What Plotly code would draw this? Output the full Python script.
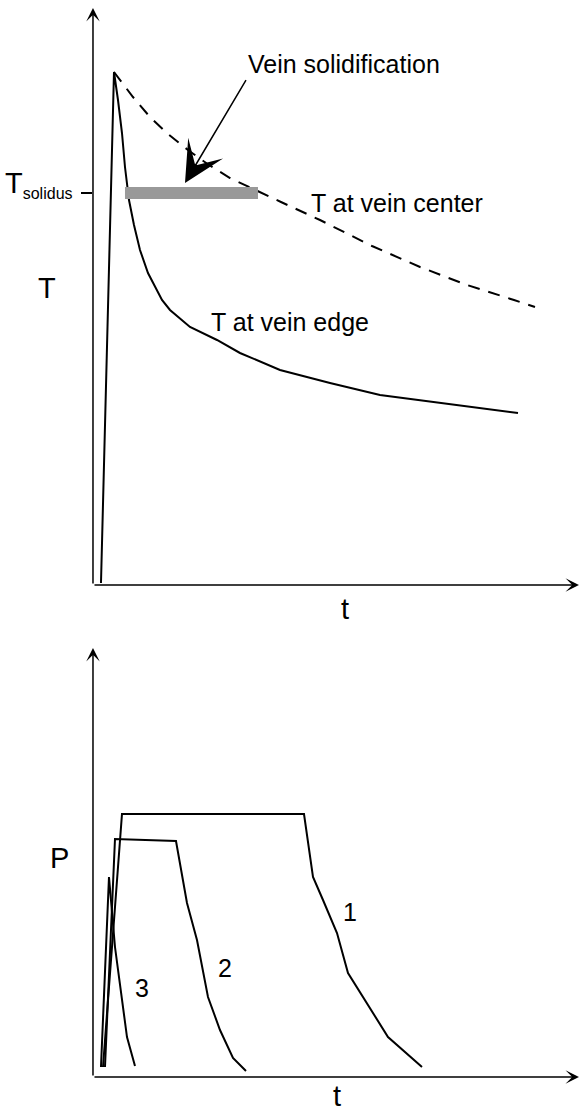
import plotly.graph_objects as go

# unidades arbitrarias: t (tiempo), T (temperatura), P (presion)
FONT = "Liberation Sans, Arial, sans-serif"

# panel superior: temperatura en el borde de la vena
t_edge = [0.8, 2.1, 2.5, 2.9, 3.2, 3.6, 4.1, 4.7, 5.5, 6.9, 7.7, 9.7, 12.4,
          14.7, 18.7, 23.7, 28.7, 32.7, 38.0, 42.5]
T_edge = [0.2, 51.3, 48.5, 45.2, 41.8, 38.5, 36.0, 33.5, 31.2, 28.5, 27.5,
          25.8, 24.5, 23.2, 21.5, 20.2, 19.0, 18.5, 17.8, 17.2]

# temperatura en el centro de la vena (discontinua)
t_center = [2.1, 4.0, 5.7, 7.5, 9.5, 11.6, 13.7, 16.2, 18.8, 22.7, 27.9,
            32.7, 37.4, 42.1, 44.2]
T_center = [51.3, 48.8, 46.8, 45.1, 43.5, 42.0, 40.7, 39.5, 38.3, 36.5,
            33.9, 31.8, 30.0, 28.5, 27.8]

T_solidus = 39.2
t_solid = [3.2, 16.5]          # intervalo de solidificacion

# flecha "Vein solidification"
arrow_tail = (15.3, 50.5)
arrow_head = (9.2, 40.2)

# panel inferior: presion para las venas 1, 2, 3
t_p1 = [1.0, 2.9, 21.1, 22.0, 23.0, 24.4, 25.5, 29.5, 32.9]
P_p1 = [1.0, 26.3, 26.3, 20.0, 17.7, 14.4, 10.4, 4.0, 1.0]
t_p2 = [1.2, 2.2, 8.3, 9.4, 10.4, 11.5, 12.7, 14.0, 15.3]
P_p2 = [1.0, 23.8, 23.6, 17.4, 13.7, 8.0, 4.7, 1.9, 0.6]
t_p3 = [0.8, 1.6, 2.2, 3.4, 4.2]
P_p3 = [1.0, 20.0, 13.0, 4.0, 1.1]

t_max, T_max, P_max = 48.6, 57.7, 42.9

fig = go.Figure()

line = dict(color='black', width=2)
fig.add_trace(go.Scatter(x=t_edge, y=T_edge, mode='lines', line=line,
                         cliponaxis=False, xaxis='x', yaxis='y'))
fig.add_trace(go.Scatter(x=t_center, y=T_center, mode='lines',
                         line=dict(color='black', width=2, dash='12px,9px'),
                         cliponaxis=False, xaxis='x', yaxis='y'))
fig.add_trace(go.Scatter(x=t_solid, y=[T_solidus] * 2, mode='lines',
                         line=dict(color='#999999', width=12),
                         xaxis='x', yaxis='y'))

for tt, pp in [(t_p1, P_p1), (t_p2, P_p2), (t_p3, P_p3)]:
    fig.add_trace(go.Scatter(x=tt, y=pp, mode='lines', line=line,
                             cliponaxis=False, xaxis='x2', yaxis='y2'))

# ejes con flechas
def eje(xr, yr, x, y, ax, ay):
    fig.add_annotation(x=x, y=y, ax=ax, ay=ay, xref=xr, yref=yr,
                       axref=xr, ayref=yr, text='', showarrow=True,
                       arrowhead=3, arrowsize=1.5, arrowwidth=1.5,
                       arrowcolor='black')

eje('x', 'y', t_max, 0, 0, 0)
eje('x', 'y', 0, T_max, 0, 0)
eje('x2', 'y2', t_max, 0, 0, 0)
eje('x2', 'y2', 0, P_max, 0, 0)

txt = dict(family=FONT, size=25, color='black')
big = dict(family=FONT, size=29, color='black')

fig.add_annotation(x=arrow_head[0], y=arrow_head[1], ax=arrow_tail[0],
                   ay=arrow_tail[1], xref='x', yref='y', axref='x', ayref='y',
                   text='Vein solidification', font=txt,
                   xanchor='left', yanchor='bottom',
                   showarrow=True, arrowhead=3, arrowsize=4.5,
                   arrowwidth=1.5, arrowcolor='black')

# etiqueta T_solidus junto a la marca del eje (coordenadas de papel)
fig.add_annotation(x=0.1295, y=0.8267, xref='paper', yref='paper',
                   text='T<sub><span style="font-size:16px">solidus</span></sub>',
                   font=big, showarrow=False, xanchor='right',
                   yanchor='middle', yshift=9)

etiquetas = [
    ('T at vein center', 30.4, 38.2, 'x', 'y'),
    ('T at vein edge', 19.7, 26.3, 'x', 'y'),
    ('1', 25.7, 16.5, 'x2', 'y2'),
    ('2', 13.2, 10.9, 'x2', 'y2'),
    ('3', 4.9, 8.9, 'x2', 'y2'),
]
for texto, x, y, xr, yr in etiquetas:
    fig.add_annotation(x=x, y=y, xref=xr, yref=yr, text=texto,
                       showarrow=False, font=txt)

for texto, x, y, ya in [('T', 0.0812, 0.7415, 'middle'),
                        ('P', 0.1019, 0.2298, 'middle'),
                        ('t', 0.596, 0.4533, 'middle'),
                        ('t', 0.582, 0.0, 'bottom')]:
    fig.add_annotation(x=x, y=y, xref='paper', yref='paper', text=texto,
                       xanchor='center', yanchor=ya,
                       showarrow=False, font=big)

oculto = dict(showgrid=False, zeroline=False, showline=False,
              showticklabels=False, ticks='')

fig.update_layout(
    width=579, height=1114,
    margin=dict(l=0, r=0, t=0, b=0),
    paper_bgcolor='white', plot_bgcolor='white',
    showlegend=False,
    xaxis=dict(domain=[0.1606, 1], range=[0, t_max], anchor='y', **oculto),
    yaxis=dict(domain=[0.4749, 0.9928], range=[0, T_max], anchor='x',
               showgrid=False, zeroline=False, showline=False,
               tickvals=[T_solidus], showticklabels=False,
               ticks='outside', ticklen=11, tickwidth=1.5, tickcolor='black'),
    xaxis2=dict(domain=[0.1606, 1], range=[0, t_max], anchor='y2', **oculto),
    yaxis2=dict(domain=[0.0332, 0.4183], range=[0, P_max], anchor='x2',
                **oculto),
)

# sin margen del body para que el grafico ocupe la ventana exacta
fig.write_html("out.html", config={'displayModeBar': False},
               post_script="document.body.style.margin='0';"
                           "document.body.style.overflow='hidden';")
